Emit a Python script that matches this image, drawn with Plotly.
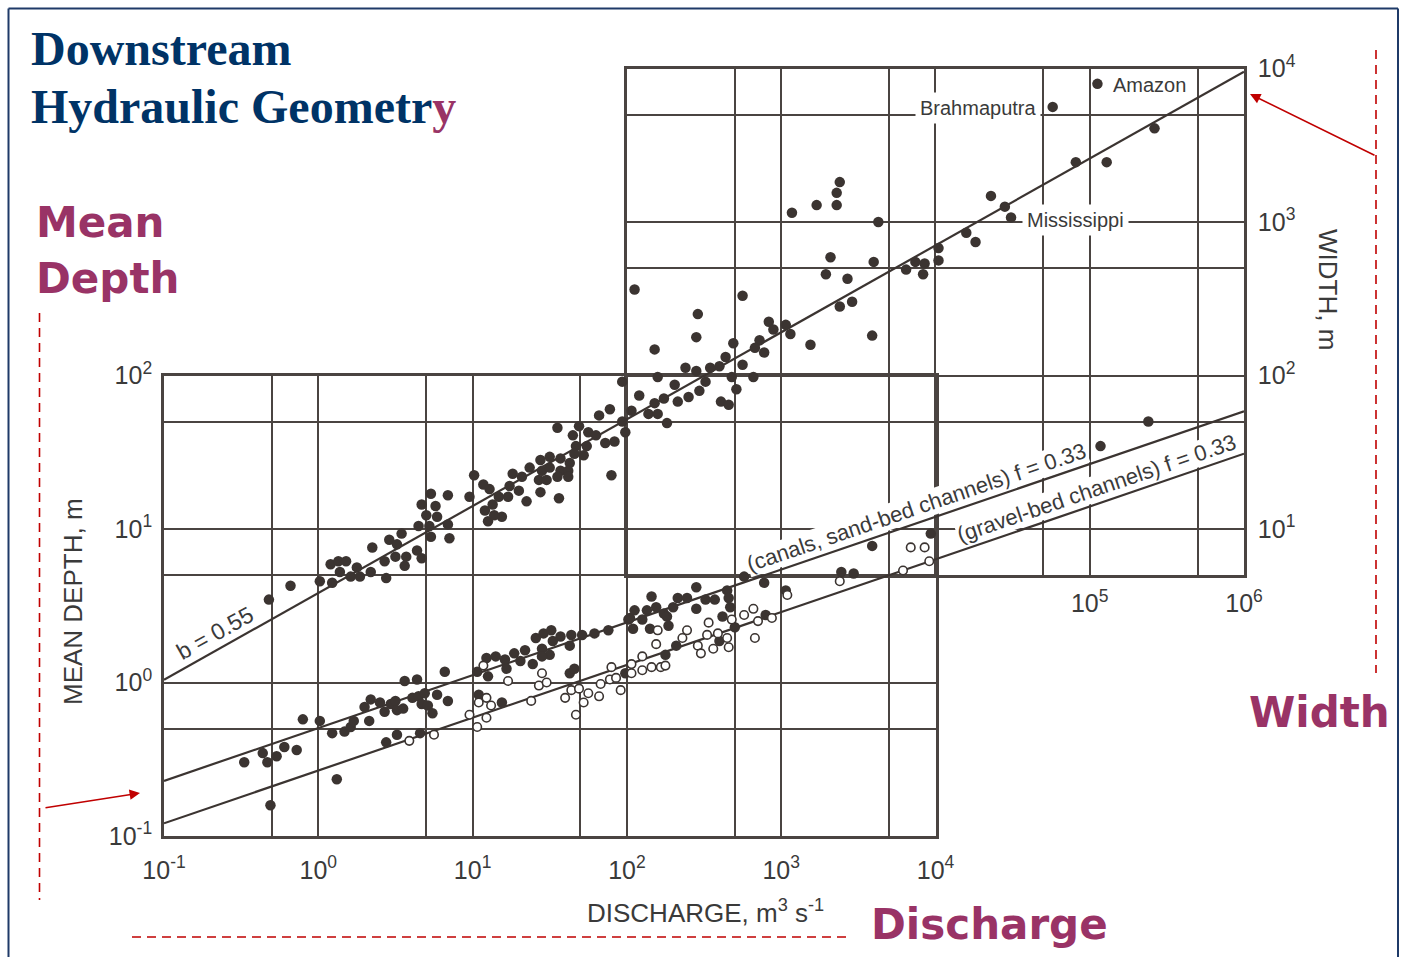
import plotly.graph_objects as go

FIG_W, FIG_H = 1404, 957

# ---------------- data (log10 values) ----------------
# Width vs discharge (filled dots)
width_logQ = [5.05, 4.76, 5.42, 4.91, 5.11, 4.36, 4.45, 4.49, 3.38, 3.36, 3.36, 3.23, 3.07, 3.63, 4.20,
              4.26, 4.02, 3.32, 3.60, 3.29, 3.43, 3.81, 3.87, 3.93, 4.02, 3.92, 2.05, 2.75, 3.38, 3.46,
              2.46, 2.45, 3.59, 3.19, 2.18, 2.92, 2.95, 3.03, 3.06, 2.86, 2.83, 2.89, 2.69, 2.64, 2.75,
              2.68, 2.71, 2.61, 2.66, 2.82, 2.60, 2.54, 2.51, 2.45, 2.38, 2.47, 2.40, 2.33, 2.31, 2.20,
              1.97, 2.24, 2.18, 2.08, 2.14, 2.20, 2.03, 2.26, 5.38, 5.07, 1.89, 1.82, 1.97, 1.55, 1.69,
              1.65, 1.75, 1.80, 1.86, 1.92, 1.99, 1.67, 1.74, 1.72, 1.66, 1.63, 1.57, 1.50, 1.44, 1.37,
              1.45, 1.50, 1.57, 1.62, 1.43, 1.48, 1.55, 1.62, 1.26, 1.32, 1.90, 1.30, 1.24, 1.44, 1.35,
              1.56, 1.23, 1.17, 1.11, 1.07, 1.01, 0.98, 1.08, 1.13, 1.19, 1.10, 1.14, 0.73, 0.84, 0.67,
              0.76, 0.70, 0.77, 0.65, 0.72, 0.84, 0.73, 0.85, 0.54, 0.46, 0.51, 0.35, 0.64, 0.67, 0.57,
              0.50, 0.43, 0.56, 0.08, 0.13, 0.18, 0.25, 0.14, 0.21, 0.27, 0.34, 0.44, 0.01, 0.09, -0.18,
              -0.32]
width_logW = [3.90, 3.75, 3.61, 3.39, 3.39, 3.17, 3.10, 3.03, 3.26, 3.19, 3.11, 3.11, 3.06, 3.00, 2.93,
              2.87, 2.83, 2.77, 2.74, 2.66, 2.63, 2.69, 2.74, 2.73, 2.75, 2.66, 2.56, 2.52, 2.45, 2.48,
              2.40, 2.25, 2.26, 2.20, 2.17, 2.35, 2.30, 2.33, 2.27, 2.23, 2.18, 2.15, 2.21, 2.12, 2.07,
              1.99, 1.91, 1.83, 1.81, 1.99, 2.06, 2.05, 1.96, 2.03, 2.05, 1.90, 1.86, 1.83, 1.94, 1.99,
              1.96, 1.85, 1.82, 1.87, 1.75, 1.75, 1.77, 1.69, 1.70, 1.54, 1.78, 1.74, 1.70, 1.66, 1.67,
              1.61, 1.63, 1.61, 1.56, 1.57, 1.63, 1.54, 1.54, 1.48, 1.49, 1.43, 1.46, 1.47, 1.45, 1.40,
              1.38, 1.40, 1.38, 1.38, 1.32, 1.32, 1.34, 1.34, 1.36, 1.34, 1.35, 1.25, 1.28, 1.24, 1.18,
              1.20, 1.21, 1.21, 1.26, 1.29, 1.35, 1.21, 1.12, 1.16, 1.08, 1.05, 1.09, 1.23, 1.22, 1.16,
              1.15, 1.09, 1.08, 1.02, 1.02, 1.03, 0.95, 0.94, 0.97, 0.93, 0.90, 0.88, 0.86, 0.81, 0.82,
              0.82, 0.79, 0.76, 0.77, 0.79, 0.79, 0.75, 0.72, 0.69, 0.69, 0.72, 0.68, 0.66, 0.65, 0.63,
              0.54]

# Mean depth, canals and sand-bed channels (filled dots)
sand_logQ = [-0.48, -0.36, -0.33, -0.27, -0.22, -0.14, -0.31, 0.12, -0.10, 0.01, 0.09, 0.17, 0.21, 0.23,
             0.33, 0.30, 0.34, 0.40, 0.43, 0.47, 0.50, 0.51, 0.55, 0.56, 0.64, 0.51, 0.44, 0.66, 0.61,
             0.65, 0.69, 0.67, 0.71, 0.74, 0.77, 0.84, 0.82, 1.03, 1.10, 1.09, 1.15, 1.21, 1.22, 1.27,
             1.34, 1.31, 1.39, 1.41, 1.46, 1.51, 1.57, 1.45, 1.50, 1.52, 1.45, 1.64, 1.63, 1.71, 1.79,
             1.88, 2.01, 1.04, 1.19, 1.63, 1.66, 1.99, 2.04, 2.02, 2.05, 2.10, 2.13, 2.15, 2.16, 2.19,
             2.24, 2.26, 2.27, 2.30, 2.33, 2.39, 2.45, 2.45, 2.51, 2.57, 2.65, 2.66, 2.67, 2.62, 2.70,
             2.76, 2.89, 2.90, 3.03, 3.39, 3.47, 3.59, 2.32, 2.25, 2.60, 3.97]
sand_logD = [-0.52, -0.46, -0.52, -0.48, -0.42, -0.44, -0.80, -0.63, -0.24, -0.25, -0.33, -0.32, -0.29,
             -0.25, -0.25, -0.16, -0.11, -0.13, -0.19, -0.14, -0.12, -0.18, -0.17, 0.01, 0.02, -0.34,
             -0.39, -0.33, -0.10, -0.09, -0.07, -0.14, -0.15, -0.20, -0.08, -0.12, 0.07, 0.07, 0.04,
             0.16, 0.17, 0.15, 0.09, 0.19, 0.21, 0.14, 0.12, 0.29, 0.32, 0.34, 0.30, 0.22, 0.18, 0.27,
             0.17, 0.31, 0.24, 0.31, 0.32, 0.34, 0.41, -0.08, -0.13, 0.06, 0.09, 0.06, 0.35, 0.42, 0.47,
             0.41, 0.47, 0.35, 0.56, 0.49, 0.45, 0.43, 0.37, 0.49, 0.55, 0.55, 0.62, 0.48, 0.54, 0.54,
             0.60, 0.55, 0.49, 0.43, 0.36, 0.69, 0.65, 0.44, 0.60, 0.72, 0.71, 0.89, 0.24, 0.18, 0.27,
             0.97]

# Mean depth, gravel-bed channels (open circles)
gravel_logQ = [0.59, 0.75, 0.98, 1.03, 1.09, 1.04, 1.09, 1.12, 1.23, 1.07, 1.38, 1.43, 1.48, 1.45, 1.60,
               1.64, 1.69, 1.75, 1.72, 1.67, 1.82, 1.83, 1.89, 1.90, 1.93, 1.96, 2.03, 2.03, 2.10, 2.10,
               2.16, 2.22, 2.25, 2.20, 2.19, 2.39, 2.36, 2.53, 2.52, 2.46, 2.48, 2.56, 2.59, 2.65, 2.66,
               2.68, 2.76, 2.82, 2.85, 2.83, 2.94, 3.04, 3.38, 3.79, 3.84, 3.93, 3.96]
gravel_logD = [-0.38, -0.34, -0.21, -0.29, -0.23, -0.13, -0.10, -0.15, 0.01, 0.11, -0.12, -0.02, 0.00,
               0.06, -0.10, -0.05, -0.04, -0.07, -0.13, -0.21, -0.09, -0.01, 0.02, 0.10, 0.03, -0.05,
               0.12, 0.06, 0.17, 0.08, 0.10, 0.10, 0.11, 0.34, 0.25, 0.34, 0.29, 0.39, 0.31, 0.24, 0.19,
               0.22, 0.32, 0.29, 0.23, 0.41, 0.44, 0.48, 0.40, 0.29, 0.42, 0.57, 0.66, 0.73, 0.88, 0.88,
               0.79]

# Regression lines as drawn (coefficient, exponent)
width_coef, width_exp = 3.83, 0.566
sand_coef, sand_exp = 0.505, 0.344
gravel_coef, gravel_exp = 0.267, 0.344
line_Q = [0.1, 1.0e6]

# Axis tick values (grid at 1 and 5 x 10^n)
depth_x_ticks = [0.1, 0.5, 1, 5, 10, 50, 100, 500, 1000, 5000, 10000]
depth_x_text = ["10<sup>-1</sup>", "", "10<sup>0</sup>", "", "10<sup>1</sup>", "", "10<sup>2</sup>", "",
                "10<sup>3</sup>", "", "10<sup>4</sup>"]
depth_y_ticks = [0.1, 0.5, 1, 5, 10, 50, 100]
depth_y_text = ["10<sup>-1</sup>", "", "10<sup>0</sup>", "", "10<sup>1</sup>", "", "10<sup>2</sup>"]
width_x_ticks = [100, 500, 1000, 5000, 10000, 50000, 100000, 500000, 1000000]
width_x_text = ["", "", "", "", "", "", "10<sup>5</sup>", "", "10<sup>6</sup>"]
width_y_ticks = [5, 10, 50, 100, 500, 1000, 5000, 10000]
width_y_text = ["", "10<sup>1</sup>", "", "10<sup>2</sup>", "", "10<sup>3</sup>", "", "10<sup>4</sup>"]

# ---------------- styling ----------------
INK = "#3b3431"
GRID = "#4a4441"
TXT = "#3a3a3a"
NAVY = "#003366"
PURPLE = "#993366"
RED = "#C00000"
TICKFONT = dict(family="Liberation Sans, Arial, sans-serif", size=25, color=TXT)


def px(x):
    return x / FIG_W


def py(y):
    return 1 - y / FIG_H


# layout geometry: one log scale in x (154.3 px/decade) and one in y (153.5 px/decade)
X0, X1 = 164, 1244                 # 10^-1 .. 10^6
X_DEPTH_R, X_WIDTH_L = 935.5, 626.9  # 10^4, 10^2
Y_TOP, Y_BOT = 68.5, 836.0         # 10^4 .. 10^-1
Y_DEPTH_T = 375.5                  # 10^2
Y_WIDTH_B = 575.2                  # 5


fig = go.Figure()


def tenp(v):
    return [10 ** a for a in v]


ov = dict(xaxis="x3", yaxis="y3", hoverinfo="skip")
fig.add_trace(go.Scatter(x=line_Q, y=[width_coef * q ** width_exp for q in line_Q], mode="lines",
                         line=dict(color=INK, width=2.2), **ov))
fig.add_trace(go.Scatter(x=line_Q, y=[sand_coef * q ** sand_exp for q in line_Q], mode="lines",
                         line=dict(color=INK, width=2.2), **ov))
fig.add_trace(go.Scatter(x=line_Q, y=[gravel_coef * q ** gravel_exp for q in line_Q], mode="lines",
                         line=dict(color=INK, width=2.2), **ov))
fig.add_trace(go.Scatter(x=tenp(width_logQ), y=tenp(width_logW), mode="markers",
                         marker=dict(size=10.5, color=INK), cliponaxis=False, **ov))
fig.add_trace(go.Scatter(x=tenp(sand_logQ), y=tenp(sand_logD), mode="markers",
                         marker=dict(size=10.5, color=INK), cliponaxis=False, **ov))
fig.add_trace(go.Scatter(x=tenp(gravel_logQ), y=tenp(gravel_logD), mode="markers",
                         marker=dict(size=8.5, color="white", line=dict(color=INK, width=1.6)),
                         cliponaxis=False, **ov))
# invisible traces so the two grid subplots exist
fig.add_trace(go.Scatter(x=[1], y=[1], mode="markers", marker=dict(opacity=0), xaxis="x", yaxis="y",
                         hoverinfo="skip"))
fig.add_trace(go.Scatter(x=[1000], y=[100], mode="markers", marker=dict(opacity=0), xaxis="x2",
                         yaxis="y2", hoverinfo="skip"))

grid_common = dict(type="log", showgrid=True, gridcolor=GRID, gridwidth=2.3, showline=True,
                   linecolor=GRID, linewidth=2.7, mirror=True, zeroline=False, ticks="outside",
                   tickcolor="rgba(0,0,0,0)", tickfont=TICKFONT, fixedrange=True, tickmode="array",
                   automargin=False)
hidden = dict(type="log", visible=False, fixedrange=True, automargin=False)

fig.update_layout(
    template="none",
    width=FIG_W, height=FIG_H,
    margin=dict(l=0, r=0, t=0, b=0, pad=0, autoexpand=False),
    paper_bgcolor="white", plot_bgcolor="rgba(0,0,0,0)",
    showlegend=False,
    xaxis=dict(grid_common, domain=[px(X0), px(X_DEPTH_R)], range=[-1, 4], anchor="y",
               tickvals=depth_x_ticks, ticktext=depth_x_text, ticklen=10),
    yaxis=dict(grid_common, domain=[py(Y_BOT), py(Y_DEPTH_T)], range=[-1, 2], anchor="x",
               tickvals=depth_y_ticks, ticktext=depth_y_text, ticklen=4),
    xaxis2=dict(grid_common, domain=[px(X_WIDTH_L), px(X1)], range=[2, 6], anchor="y2",
                tickvals=width_x_ticks, ticktext=width_x_text, ticklen=4),
    yaxis2=dict(grid_common, domain=[py(Y_WIDTH_B), py(Y_TOP)], range=[0.69897, 4], anchor="x2",
                side="right", tickvals=width_y_ticks, ticktext=width_y_text, ticklen=6),
    xaxis3=dict(hidden, domain=[px(X0), px(X1)], range=[-1, 6], anchor="y3"),
    yaxis3=dict(hidden, domain=[py(Y_BOT), py(Y_TOP)], range=[-1, 4], anchor="x3"),
)

ann = []


def note(text, x, y, font, xa="center", ya="middle", **kw):
    d = dict(x=px(x), y=py(y), xref="paper", yref="paper", xanchor=xa, yanchor=ya, text=text,
             showarrow=False, font=font)
    d.update(kw)
    ann.append(d)


serif = dict(family="Liberation Serif, Times New Roman, serif", size=48, color=NAVY)
note("<b>Downstream</b>", 29, 48, serif, xa="left")
note("<b>Hydraulic Geometr<span style='color:%s'>y</span></b>" % PURPLE, 29, 107, serif, xa="left")
big = dict(family="DejaVu Sans, Verdana, sans-serif", size=42, color=PURPLE)
for txt, x, y in [("Mean", 34, 222), ("Depth", 34, 278), ("Width", 1247, 712), ("Discharge", 869, 924)]:
    note("<b>%s</b>" % txt, x, y, big, xa="left")
# axis titles
axfont = dict(family="Liberation Sans, Arial, sans-serif", size=26, color=TXT)
note("MEAN DEPTH, m", 73, 602, axfont, textangle=-90)
note("WIDTH, m", 1328, 289, axfont, textangle=90)
note("DISCHARGE, m<sup>3</sup> s<sup>-1</sup>", 706, 911, axfont)
# river labels
lab = dict(family="Liberation Sans, Arial, sans-serif", size=20, color=TXT)
note("Amazon", 1111, 85, lab, xa="left")
note("Brahmaputra", 1041, 108, lab, xa="right", bgcolor="white", borderpad=4)
note("Mississippi", 1022, 220, lab, xa="left", bgcolor="white", borderpad=4)
# line labels
llab = dict(family="Liberation Sans, Arial, sans-serif", size=22, color=TXT)
note("(canals, sand-bed channels) f = 0.33", 916, 507, llab, textangle=-18.8, bgcolor="white",
     borderpad=0)
note("(gravel-bed channels) f = 0.33", 1096, 488, llab, textangle=-18.8, bgcolor="white",
     borderpad=0)
note("b = 0.55", 215, 633, dict(llab, size=23), textangle=-29.3)
# red arrows (tail offsets in pixels from the head)
ann.append(dict(x=px(140), y=py(793), ax=-96, ay=15, xref="paper", yref="paper",
                axref="pixel", ayref="pixel", text="", showarrow=True, arrowhead=2, arrowsize=1.3,
                arrowwidth=1.6, arrowcolor=RED))
ann.append(dict(x=px(1250), y=py(94), ax=126, ay=62, xref="paper", yref="paper",
                axref="pixel", ayref="pixel", text="", showarrow=True, arrowhead=2, arrowsize=1.3,
                arrowwidth=1.6, arrowcolor=RED))
fig.update_layout(annotations=ann)

shapes = []
dash = "9px,6px"
shapes.append(dict(type="line", xref="paper", yref="paper", x0=px(39.5), x1=px(39.5), y0=py(313),
                   y1=py(900), line=dict(color=RED, width=1.6, dash=dash)))
shapes.append(dict(type="line", xref="paper", yref="paper", x0=px(132), x1=px(850), y0=py(937),
                   y1=py(937), line=dict(color=RED, width=1.6, dash=dash)))
shapes.append(dict(type="line", xref="paper", yref="paper", x0=px(1376), x1=px(1376), y0=py(50),
                   y1=py(673), line=dict(color=RED, width=1.6, dash=dash)))
# slide border
for x0, y0, x1, y1 in [(8.5, 8.5, 1398, 8.5), (8.5, 8.5, 8.5, 960), (1398, 8.5, 1398, 960)]:
    shapes.append(dict(type="line", xref="paper", yref="paper", x0=px(x0), x1=px(x1), y0=py(y0),
                       y1=py(y1), line=dict(color="#1F3A68", width=2)))
fig.update_layout(shapes=shapes)

fig.write_html("out.html", config={"displayModeBar": False},
               post_script="document.body.style.margin='0px';document.body.style.overflow='hidden';")
